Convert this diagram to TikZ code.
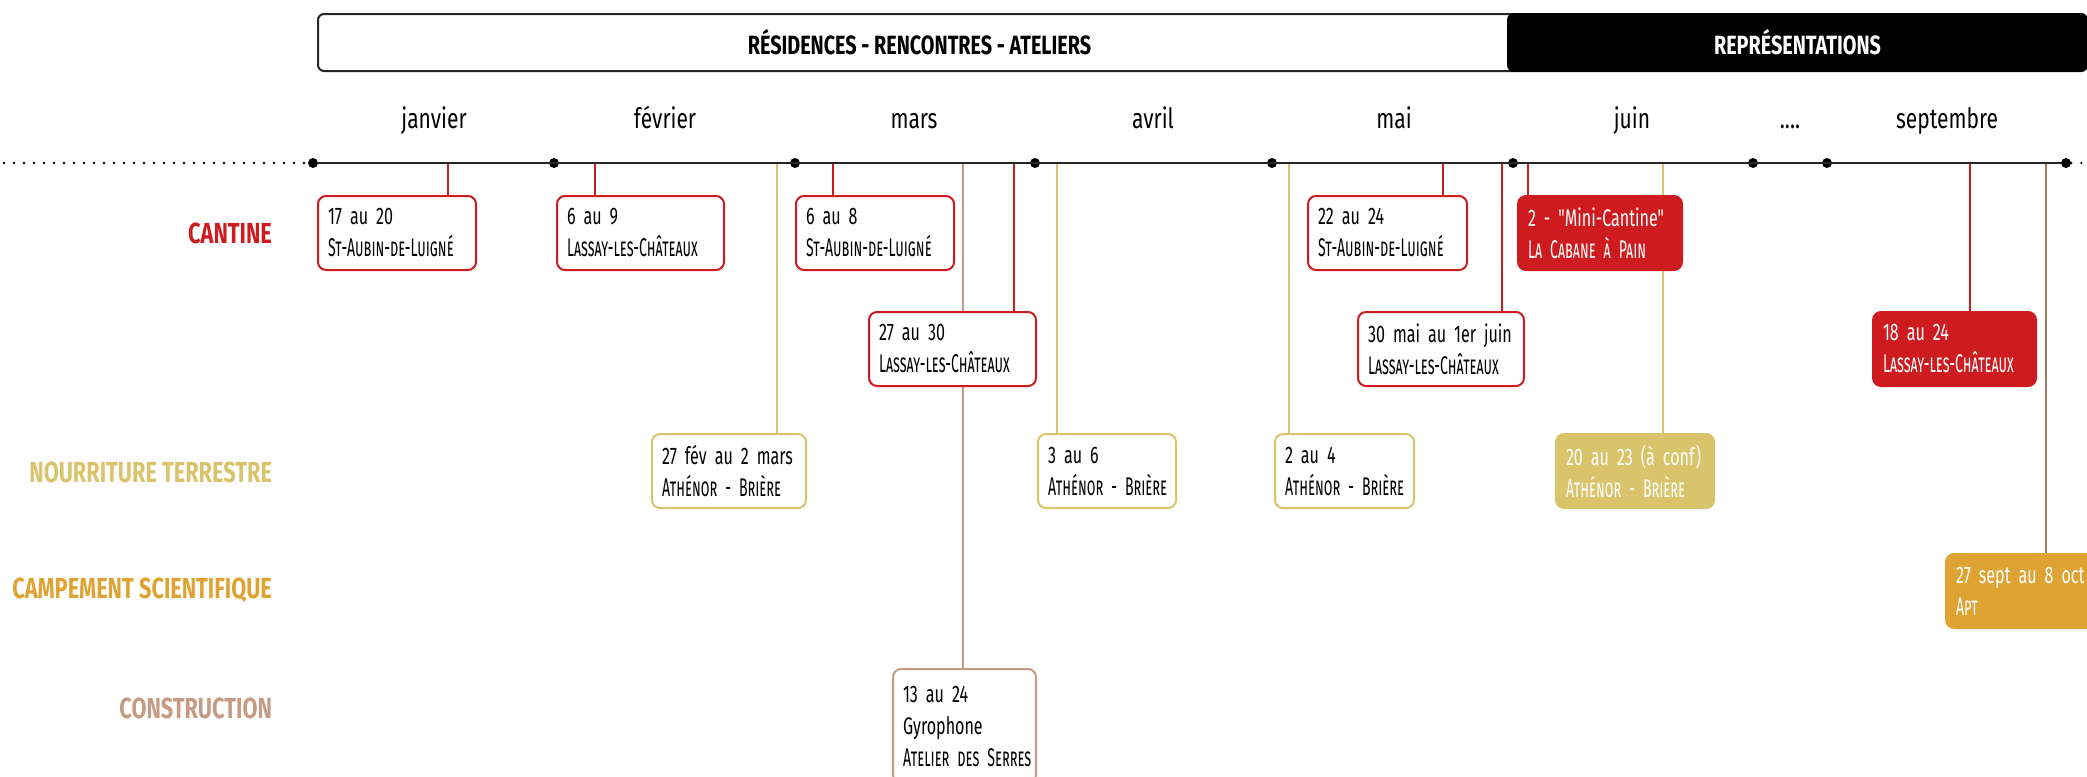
\documentclass[tikz,border=0pt]{standalone}
\usepackage{fontspec}
\setmainfont{Fira Sans}[FakeStretch=0.75, SmallCapsFeatures={FakeStretch=0.64}]
\newfontfamily\evtfont{Fira Sans}[FakeStretch=0.67, SmallCapsFeatures={FakeStretch=0.55}]
\usetikzlibrary{backgrounds}

\definecolor{cantine}{RGB}{206,27,31}
\definecolor{nourri}{RGB}{217,196,108}
\definecolor{campe}{RGB}{223,163,52}
\definecolor{campeline}{RGB}{168,120,92}
\definecolor{constr}{RGB}{197,155,132}

% une ligne de texte qui ne se coupe pas
\newcommand{\ligne}[1]{\mbox{#1}}
% le lieu, en petites capitales
\newcommand{\lieu}[1]{\mbox{\fontsize{12.8}{16}\selectfont\scshape #1}}

\tikzset{
  evt/.style={draw=#1, line width=1pt, rounded corners=4pt, fill=white, anchor=north west,
    align=left, inner xsep=5pt, inner ysep=3pt, minimum height=37pt,
    font=\evtfont\fontsize{12}{16}\selectfont},
  evtfill/.style={evt=#1, fill=#1, text=white},
  link/.style={draw=#1, line width=1pt},
  cat/.style={anchor=east, font=\fontsize{14.5}{16}\selectfont\bfseries},
  month/.style={anchor=base, font=\fontsize{14}{16}\selectfont},
  tdot/.style={circle, fill=black, inner sep=0pt, minimum size=5pt},
  lead/.style={line width=1.3pt, dash pattern=on 0pt off 5pt, line cap=round},
}

\begin{document}
\begin{tikzpicture}[x=0.5pt, y=-0.5pt, line join=round, line cap=round]
	\useasboundingbox (0,0) rectangle (2087,776);
	% bandeau du haut
	\node[draw=black!85, line width=1pt, rounded corners=3pt, anchor=north west, minimum width=601.5pt, minimum height=28.5pt, font=\fontsize{13.2}{15}\selectfont\bfseries] (resid) at (317,13) {RÉSIDENCES - RENCONTRES - ATELIERS};
	\node[draw=black, fill=black, line width=1pt, rounded corners=3pt, anchor=north west, minimum width=289.5pt, minimum height=28.5pt, text=white, font=\fontsize{13.2}{15}\selectfont\bfseries] (repr) at (1507,13) {REPRÉSENTATIONS};
	% mois
	\foreach \m/\x in {janvier/434, février/665, mars/914, avril/1153, mai/1394, juin/1632, {....}/1790, septembre/1947}
		\node[month] (m\x) at (\x,128) {\m};
	% frise
	\foreach \x [count=\i] in {313,554,795,1035,1272,1513,1753,1827,2066}
		\node[tdot] (d\i) at (\x,163) {};
	\draw[line width=1pt, black!85] (d1) -- (d9);
	\coordinate (lead) at (4,163);
	\coordinate (tail) at (2084,163);
	\draw[lead] (lead) -- (d1);
	\draw[lead] (d9) -- (tail);
	% categories
	\node[cat, text=cantine] (lcan) at (279,233) {CANTINE};
	\node[cat, text=nourri] (lnou) at (279,472) {NOURRITURE TERRESTRE};
	\node[cat, text=campe] (lcam) at (279,590) {CAMPEMENT SCIENTIFIQUE};
	\node[cat, text=constr] (lcon) at (279,708) {CONSTRUCTION};
	% cantine
	\node[evt=cantine, text width=69pt] (c1) at (317,195) {\ligne{17 au 20}\\\lieu{St-Aubin-de-Luigné}};
	\node[evt=cantine, text width=73.5pt] (c2) at (556,195) {\ligne{6 au 9}\\\lieu{Lassay-les-Châteaux}};
	\node[evt=cantine, text width=69pt] (c3) at (795,195) {\ligne{6 au 8}\\\lieu{St-Aubin-de-Luigné}};
	\node[evt=cantine, text width=69.5pt] (c4) at (1307,195) {\ligne{22 au 24}\\\lieu{St-Aubin-de-Luigné}};
	\node[evtfill=cantine, text width=72pt] (c5) at (1517,195) {\ligne{2 - "Mini-Cantine"}\\\lieu{La Cabane à Pain}};
	\node[evt=cantine, text width=73.5pt] (c6) at (868,311) {\ligne{27 au 30}\\\lieu{Lassay-les-Châteaux}};
	\node[evt=cantine, text width=73pt] (c7) at (1357,311) {\ligne{30 mai au 1er juin}\\\lieu{Lassay-les-Châteaux}};
	\node[evtfill=cantine, text width=71.5pt] (c8) at (1872,311) {\ligne{18 au 24}\\\lieu{Lassay-les-Châteaux}};
	% nourriture terrestre
	\node[evt=nourri, text width=67pt] (n1) at (651,433) {\ligne{27 fév au 2 mars}\\\lieu{Athénor - Brière}};
	\node[evt=nourri, text width=59pt] (n2) at (1037,433) {\ligne{3 au 6}\\\lieu{Athénor - Brière}};
	\node[evt=nourri, text width=59.5pt] (n3) at (1274,433) {\ligne{2 au 4}\\\lieu{Athénor - Brière}};
	\node[evtfill=nourri, text width=69pt] (n4) at (1555,433) {\ligne{20 au 23 (à conf)}\\\lieu{Athénor - Brière}};
	% campement scientifique
	\node[evtfill=campe, text width=65pt] (s1) at (1945,553) {\ligne{27 sept au 8 oct}\\\lieu{Apt}};
	% construction
	\node[evt=constr, text width=61.5pt, minimum height=57pt] (k1) at (892,668) {\ligne{13 au 24}\\\ligne{Gyrophone}\\\lieu{Atelier des Serres}};
	% liens
	\begin{scope}[on background layer]
		\foreach \n/\x/\col in {c1/448/cantine, c2/595/cantine, c3/833/cantine, c4/1443/cantine, c5/1528/cantine, c6/1014/cantine, c7/1502/cantine, c8/1970/cantine, n1/777/nourri, n2/1057/nourri, n3/1289/nourri, n4/1663/nourri, s1/2046/campeline, k1/963/constr}{
			\coordinate (t\n) at (\x,163);
			\draw[link=\col] (t\n) -- (t\n |- \n.north);
		}
	\end{scope}
\end{tikzpicture}
\end{document}
